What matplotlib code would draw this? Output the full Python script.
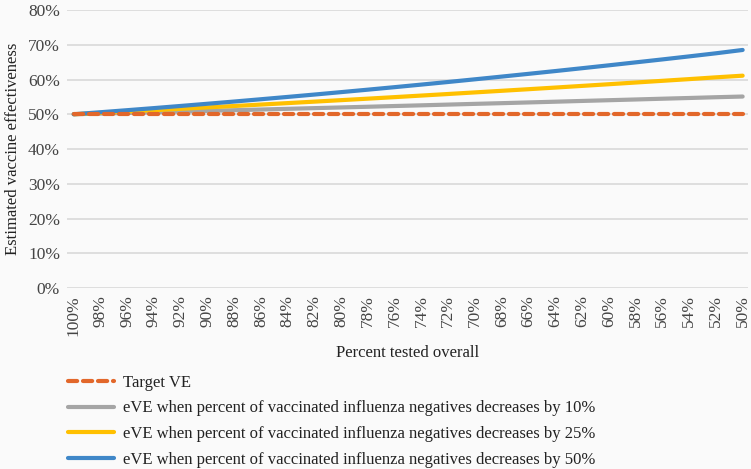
import numpy as np
import matplotlib.pyplot as plt

plt.rcParams['font.family'] = ['Liberation Serif', 'DejaVu Serif']

tested = ['100%', '98%', '96%', '94%', '92%', '90%', '88%', '86%', '84%', '82%', '80%', '78%', '76%',
          '74%', '72%', '70%', '68%', '66%', '64%', '62%', '60%', '58%', '56%', '54%', '52%', '50%']
target = [50.0] * 26
eve10 = [50.0, 50.19, 50.38, 50.58, 50.77, 50.97, 51.16, 51.36, 51.56, 51.76, 51.96, 52.16, 52.37,
         52.57, 52.78, 52.99, 53.19, 53.40, 53.61, 53.83, 54.04, 54.25, 54.47, 54.68, 54.90, 55.10]
eve25 = [50.0, 50.38, 50.77, 51.16, 51.56, 51.97, 52.37, 52.79, 53.21, 53.63, 54.06, 54.49, 54.93,
         55.38, 55.83, 56.29, 56.75, 57.21, 57.68, 58.16, 58.64, 59.13, 59.62, 60.11, 60.62, 61.10]
eve50 = [50.0, 50.58, 51.17, 51.77, 52.39, 53.02, 53.66, 54.32, 54.99, 55.67, 56.37, 57.08, 57.80,
         58.54, 59.29, 60.06, 60.84, 61.63, 62.43, 63.25, 64.08, 64.93, 65.78, 66.65, 67.54, 68.50]

bg = '#fafafa'
fig = plt.figure(figsize=(7.51, 4.69), dpi=100, facecolor=bg)
ax = fig.add_axes([67/751, 1-288/469, 681/751, 278/469], facecolor=bg)

x = np.arange(len(tested))
ax.plot(x, eve10, color='#a5a5a5', lw=3, solid_capstyle='round',
        label='eVE when percent of vaccinated influenza negatives decreases by 10%')
ax.plot(x, eve25, color='#ffc000', lw=3, solid_capstyle='round',
        label='eVE when percent of vaccinated influenza negatives decreases by 25%')
ax.plot(x, eve50, color='#3f87c8', lw=3, solid_capstyle='round',
        label='eVE when percent of vaccinated influenza negatives decreases by 50%')
ax.plot(x, target, color='#e2672a', lw=3, ls=(0, (2.2, 1.4)), dash_capstyle='round',
        label='Target VE', zorder=3)

ax.set_xlim(-0.25, 25.2)
ax.set_ylim(0, 80)
ax.set_yticks(range(0, 81, 10))
ax.set_yticklabels([f'{v}%' for v in range(0, 81, 10)], fontsize=12.5, color='#444444')
ax.set_xticks(x)
ax.set_xticklabels(tested, rotation=90, fontsize=12.5, color='#444444')
ax.tick_params(length=0, pad=5)
ax.grid(axis='y', color='#d9d9d9', lw=1.2)
ax.set_axisbelow(True)
for s in ax.spines.values():
    s.set_visible(False)

ax.set_ylabel('Estimated vaccine effectiveness', fontsize=12, color='#222222')
ax.yaxis.set_label_coords(-0.068, 0.5)
ax.set_xlabel('Percent tested overall', fontsize=12, color='#222222')
ax.xaxis.set_label_coords(0.5, -0.205)

h, l = ax.get_legend_handles_labels()
order = [3, 0, 1, 2]
fig.legend([h[i] for i in order], [l[i] for i in order], loc='upper left',
           bbox_to_anchor=(68/751, 1-375/469), frameon=False, fontsize=12, borderpad=0,
           borderaxespad=0, handlelength=2.75, labelspacing=0.57, handletextpad=0.55,
           labelcolor='#222222')

plt.savefig('out.png', dpi=100, facecolor=bg)
